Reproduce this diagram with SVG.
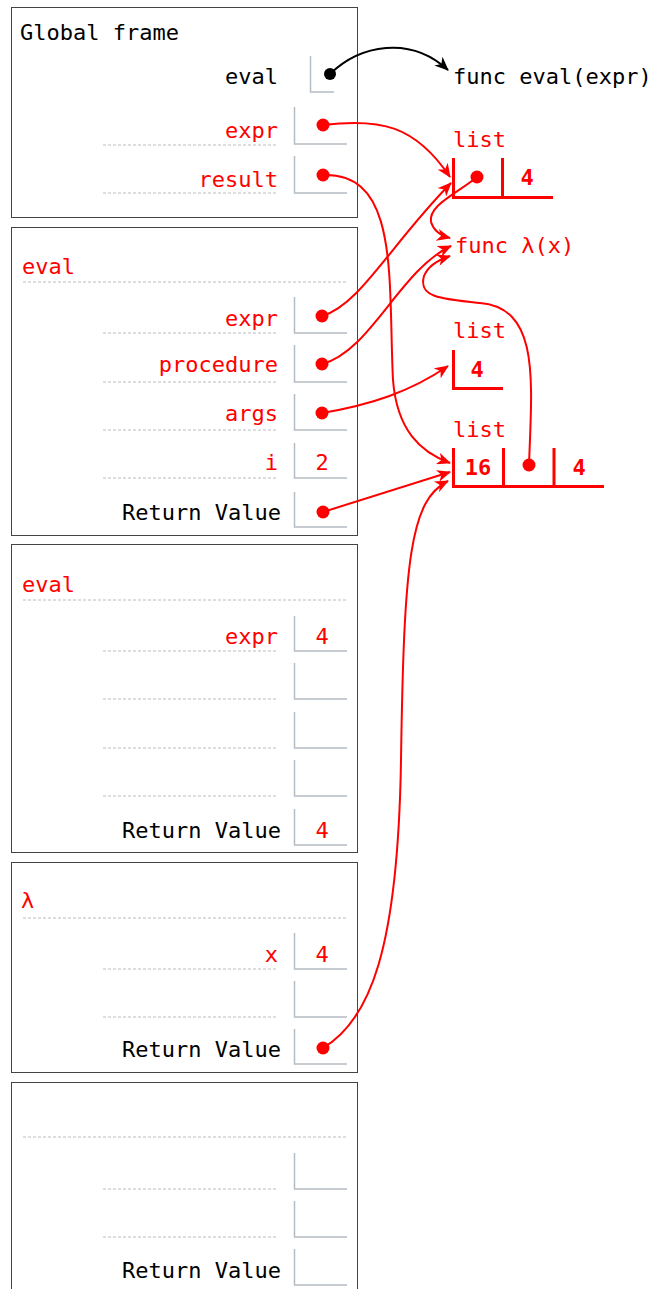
<svg xmlns="http://www.w3.org/2000/svg" width="659" height="1289" viewBox="0 0 659 1289">
<style>
text{font-family:"DejaVu Sans Mono","Liberation Mono",monospace;font-size:22px}
.k{fill:#000}
.r{fill:#f00}
.lbl{text-anchor:end}
.val{text-anchor:middle;fill:#f00}
.b{font-weight:bold;text-anchor:middle;fill:#f00}
.frame{fill:#fff;stroke:#444;stroke-width:1}
.dash{stroke:#b8bec4;stroke-width:1;stroke-dasharray:3,2;fill:none}
.box{stroke:#b4bcc4;stroke-width:1.5;fill:none}
.lst{stroke:#f00;stroke-width:3;fill:none}
.dot{fill:#f00}
.c{stroke:#f00;stroke-width:2;fill:none;marker-end:url(#ar)}
.ck{stroke:#000;stroke-width:2;fill:none;marker-end:url(#ak)}
</style>
<defs>
<marker id="ar" viewBox="0 0 14 12" refX="13" refY="6" markerWidth="14" markerHeight="12" markerUnits="userSpaceOnUse" orient="auto">
<path d="M0,0 L14,6 L0,12 L4,6 z" fill="#f00"/>
</marker>
<marker id="ak" viewBox="0 0 14 12" refX="13" refY="6" markerWidth="14" markerHeight="12" markerUnits="userSpaceOnUse" orient="auto">
<path d="M0,0 L14,6 L0,12 L4,6 z" fill="#000"/>
</marker>
</defs>
<rect width="659" height="1289" fill="#fff"/>

<g id="frame-global">
<rect class="frame" x="11.5" y="7.5" width="346" height="210"/>
<text class="k" x="20" y="40">Global frame</text>
<text class="k lbl" x="278" y="84">eval</text>
<path class="box" d="M310.5,56 V92 H334"/>
<circle cx="330" cy="74" r="6" fill="#000"/>
<text class="r lbl" x="278" y="138">expr</text>
<line class="dash" x1="103" y1="145" x2="277" y2="145"/>
<path class="box" d="M294.5,107 V144 H347"/>
<circle class="dot" cx="323" cy="125" r="6.5"/>
<text class="r lbl" x="278" y="187">result</text>
<line class="dash" x1="103" y1="193" x2="277" y2="193"/>
<path class="box" d="M294.5,156 V193 H347"/>
<circle class="dot" cx="323" cy="175" r="6.5"/>
</g>

<g id="frame-eval-1">
<rect class="frame" x="11.5" y="227.5" width="346" height="308"/>
<text class="r" x="22" y="274">eval</text>
<line class="dash" x1="23" y1="282" x2="346" y2="282"/>
<text class="r lbl" x="278" y="326">expr</text>
<line class="dash" x1="103" y1="333" x2="277" y2="333"/>
<path class="box" d="M294.5,297 V333 H347"/>
<circle class="dot" cx="322" cy="316" r="6.5"/>
<text class="r lbl" x="278" y="372">procedure</text>
<line class="dash" x1="103" y1="382" x2="277" y2="382"/>
<path class="box" d="M294.5,345 V382 H347"/>
<circle class="dot" cx="322" cy="364" r="6.5"/>
<text class="r lbl" x="278" y="421">args</text>
<line class="dash" x1="103" y1="430" x2="277" y2="430"/>
<path class="box" d="M294.5,394 V430 H347"/>
<circle class="dot" cx="322" cy="413" r="6.5"/>
<text class="r lbl" x="278" y="470">i</text>
<line class="dash" x1="103" y1="478" x2="277" y2="478"/>
<path class="box" d="M294.5,443 V478 H347"/>
<text class="val" x="322" y="470">2</text>
<text class="k lbl" x="281" y="520">Return Value</text>
<path class="box" d="M294.5,492 V527 H347"/>
<circle class="dot" cx="323" cy="512" r="6.5"/>
</g>

<g id="frame-eval-2">
<rect class="frame" x="11.5" y="544.5" width="346" height="308"/>
<text class="r" x="22" y="592">eval</text>
<line class="dash" x1="23" y1="600" x2="346" y2="600"/>
<text class="r lbl" x="278" y="644">expr</text>
<line class="dash" x1="103" y1="651" x2="277" y2="651"/>
<path class="box" d="M294.5,616 V651 H347"/>
<text class="val" x="322" y="644">4</text>
<line class="dash" x1="103" y1="699" x2="277" y2="699"/>
<path class="box" d="M294.5,663 V699 H347"/>
<line class="dash" x1="103" y1="748" x2="277" y2="748"/>
<path class="box" d="M294.5,712 V748 H347"/>
<line class="dash" x1="103" y1="796" x2="277" y2="796"/>
<path class="box" d="M294.5,760 V796 H347"/>
<text class="k lbl" x="281" y="838">Return Value</text>
<path class="box" d="M294.5,809 V845 H347"/>
<text class="val" x="322" y="838">4</text>
</g>

<g id="frame-lambda">
<rect class="frame" x="11.5" y="862.5" width="346" height="210"/>
<text class="r" x="21" y="908">λ</text>
<line class="dash" x1="23" y1="918" x2="346" y2="918"/>
<text class="r lbl" x="278" y="962">x</text>
<line class="dash" x1="103" y1="969" x2="277" y2="969"/>
<path class="box" d="M294.5,933 V969 H347"/>
<text class="val" x="322" y="962">4</text>
<line class="dash" x1="103" y1="1017" x2="277" y2="1017"/>
<path class="box" d="M294.5,981 V1017 H347"/>
<text class="k lbl" x="281" y="1057">Return Value</text>
<path class="box" d="M294.5,1029 V1064 H347"/>
<circle class="dot" cx="323" cy="1048" r="6.5"/>
</g>

<g id="frame-empty">
<rect class="frame" x="11.5" y="1082.5" width="346" height="220"/>
<line class="dash" x1="23" y1="1137" x2="346" y2="1137"/>
<line class="dash" x1="103" y1="1189" x2="277" y2="1189"/>
<path class="box" d="M294.5,1153 V1189 H347"/>
<line class="dash" x1="103" y1="1237" x2="277" y2="1237"/>
<path class="box" d="M294.5,1201 V1237 H347"/>
<text class="k lbl" x="281" y="1278">Return Value</text>
<path class="box" d="M294.5,1249 V1285 H347"/>
</g>

<g id="func-eval">
<text class="k" x="453" y="84">func eval(expr)</text>
</g>

<g id="list-1">
<text class="r" x="453" y="147">list</text>
<path class="lst" d="M453.5,158 V197.5 H553"/>
<line class="lst" x1="502.5" y1="158" x2="502.5" y2="197"/>
<circle class="dot" cx="477" cy="177" r="6.5"/>
<text class="b" x="527" y="185">4</text>
</g>

<g id="func-lambda">
<text class="r" x="455" y="253">func λ(x)</text>
</g>

<g id="list-2">
<text class="r" x="453" y="338">list</text>
<path class="lst" d="M453.5,350 V388.5 H503"/>
<text class="b" x="477" y="377">4</text>
</g>

<g id="list-3">
<text class="r" x="453" y="437">list</text>
<path class="lst" d="M453.5,448 V486.5 H604"/>
<line class="lst" x1="503.5" y1="448" x2="503.5" y2="486"/>
<line class="lst" x1="554" y1="448" x2="554" y2="486"/>
<text class="b" x="478" y="475">16</text>
<circle class="dot" cx="529" cy="465" r="6.5"/>
<text class="b" x="579" y="475">4</text>
</g>

<g id="connectors">
<path class="ck" d="M330,74 C360,45 410,35 448,70"/>
<path class="c" d="M323,125 C380,118 415,125 450,177"/>
<path class="c" d="M323,175 C400,172 388,280 393,380 C397,430 420,452 450,463"/>
<path class="c" d="M322,316 C360,305 390,245 451,183"/>
<path class="c" d="M322,364 C370,352 400,270 451,246"/>
<path class="c" d="M322,413 C370,405 410,392 448,366"/>
<path class="c" d="M323,512 L450,472"/>
<path class="c" d="M323,1048 C370,1020 398,950 401,760 C404,560 410,500 448,481"/>
<path class="c" d="M477,177 C458,193 428,205 431,222 C434,232 442,236 450,238"/>
<path class="c" d="M529,465 C532,380 540,308 480,303 C440,299 418,297 424,276 C428,266 438,260 450,256"/>
</g>
</svg>
